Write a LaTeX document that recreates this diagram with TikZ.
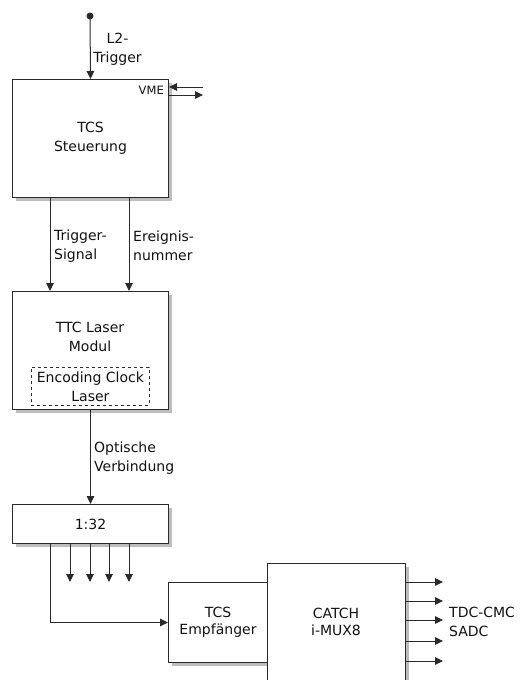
\documentclass[tikz,border=0pt]{standalone}
\usepackage{fontspec}
\setmainfont{DejaVu Sans}
\usetikzlibrary{arrows.meta,shadows}
\definecolor{linec}{HTML}{2A2A2A}
\definecolor{textc}{HTML}{111111}
\definecolor{shadc}{HTML}{BDBDBD}
\begin{document}
\begin{tikzpicture}[x=1pt,y=-1pt,
  every node/.style={text=textc, font=\fontsize{14}{19}\selectfont},
  blk/.style={draw=linec, line width=1pt, fill=white, inner sep=0pt, align=center,
    general shadow={fill=shadc, shadow xshift=3.5pt, shadow yshift=-3.5pt}},
  dashbox/.style={draw=linec, dashed, line width=0.8pt, fill=white, inner sep=0pt, align=center},
  lbl/.style={inner sep=0pt, align=left, anchor=west},
  arr/.style={draw=linec, line width=1pt, -{Triangle[length=8pt,width=7.5pt]}},
  ln/.style={draw=linec, line width=1pt}]
\path[use as bounding box] (0,0) rectangle (521,680);
\clip (0,0) rectangle (521,680);

% blocks
\node[blk, minimum width=156, minimum height=118, anchor=north west] (tcs) at (12,79) {TCS\\Steuerung};
\node[blk, minimum width=156, minimum height=118, anchor=north west] (ttc) at (12,291) {};
\node[inner sep=0pt, align=center] (ttclbl) at (90,337) {TTC Laser\\Modul};
\node[dashbox, minimum width=118, minimum height=38, anchor=north west] (enc) at (31,367) {Encoding Clock\\Laser};
\node[blk, minimum width=156, minimum height=39, anchor=north west] (split) at (12,504) {1:32};
\node[blk, minimum width=99, minimum height=80, anchor=north west, font=\fontsize{14}{16.5}\selectfont] (emp) at (168,582) {TCS\\Empfänger};
\node[blk, minimum width=138, minimum height=140, anchor=north west] (catch) at (267,563) {};
\node[inner sep=0pt, align=center, font=\fontsize{14}{17}\selectfont] (catchlbl) at (336,622) {CATCH\\i-MUX8};

% top input
\coordinate (dot) at (90,16);
\fill[linec] (dot) circle (3.5);
\draw[arr] (dot) -- (tcs.north);
\node[inner sep=0pt, align=center] (l2) at (117.5,49) {L2-\\Trigger};

% VME
\node[inner sep=0pt, anchor=base east, font=\fontsize{11.5}{13}\selectfont] (vme) at (164,94.5) {VME};
\coordinate (vmeA) at (203,87);
\coordinate (vmeB) at (203,95);
\draw[arr] (vmeA) -- (vmeA -| tcs.east);
\draw[arr] (vmeB -| tcs.east) -- (vmeB);

% tcs -> ttc
\coordinate (xa) at (50,0);
\coordinate (xb) at (129,0);
\draw[arr] (tcs.south -| xa) -- (ttc.north -| xa);
\draw[arr] (tcs.south -| xb) -- (ttc.north -| xb);
\node[lbl] (trig) at (54,246) {Trigger-\\Signal};
\node[lbl] (ereig) at (133,246) {Ereignis-\\nummer};

% ttc -> split
\draw[arr] (ttc.south) -- (split.north);
\node[lbl] (opt) at (94,458) {Optische\\Verbindung};

% split outputs
\draw[arr] (split.south -| xa) |- (emp.west);
\foreach \x/\n in {70/a,90/b,109/c,129/d}{
  \coordinate (o\n) at (\x,582);
  \draw[arr] (split.south -| o\n) -- (o\n);
}

% catch outputs
\foreach \y/\n in {582/a,601/b,620/c,641/d,661/e}{
  \coordinate (q\n) at (443,\y);
  \draw[arr] (catch.east |- q\n) -- (q\n);
}
\node[lbl] (tdc) at (449,622) {TDC-CMC\\SADC};
\end{tikzpicture}
\end{document}
